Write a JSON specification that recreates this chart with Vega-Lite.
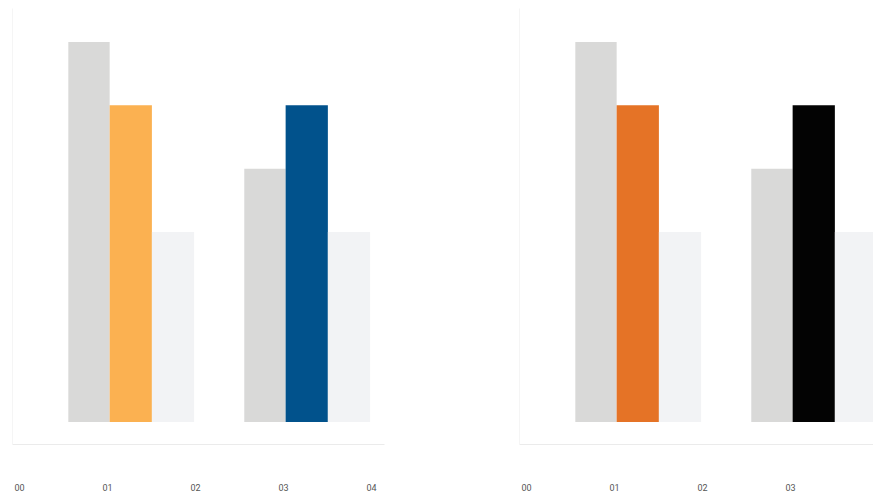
{
  "$schema": "https://vega.github.io/schema/vega-lite/v6.json",
  "padding": {"left": 12, "top": 8, "right": 0, "bottom": 0},
  "autosize": {"type": "pad"},
  "background": "white",
  "config": {"view": {"stroke": null}, "font": "Roboto", "concat": {"spacing": 135}},
  "data": {"values": [
    {"panel": "A", "series": "base-1", "start": 0.56, "end": 1.03, "value": 6},
    {"panel": "A", "series": "focus-1", "start": 1.03, "end": 1.51, "value": 5},
    {"panel": "A", "series": "ref-1", "start": 1.51, "end": 1.99, "value": 3},
    {"panel": "A", "series": "base-2", "start": 2.56, "end": 3.03, "value": 4},
    {"panel": "A", "series": "focus-2", "start": 3.03, "end": 3.51, "value": 5},
    {"panel": "A", "series": "ref-2", "start": 3.51, "end": 3.99, "value": 3},
    {"panel": "B", "series": "base-1", "start": 0.56, "end": 1.03, "value": 6},
    {"panel": "B", "series": "focus-1", "start": 1.03, "end": 1.51, "value": 5},
    {"panel": "B", "series": "ref-1", "start": 1.51, "end": 1.99, "value": 3},
    {"panel": "B", "series": "base-2", "start": 2.56, "end": 3.03, "value": 4},
    {"panel": "B", "series": "focus-2", "start": 3.03, "end": 3.51, "value": 5},
    {"panel": "B", "series": "ref-2", "start": 3.51, "end": 3.99, "value": 3}
  ]},
  "resolve": {"scale": {"color": "independent"}},
  "hconcat": [
    {
      "width": 372,
      "height": 436,
      "transform": [{"filter": "datum.panel == 'A'"}],
      "mark": {"type": "bar"},
      "encoding": {
        "x": {"field": "start", "type": "quantitative",
          "scale": {"domain": [-0.08, 4.148], "nice": false, "zero": false},
          "axis": {"values": [0, 1, 2, 3, 4], "format": "02d", "grid": false, "ticks": false, "labelPadding": 39, "labelFontSize": 9, "labelColor": "#555555", "domainColor": "#ebebeb", "title": null, "labelFlush": false}},
        "x2": {"field": "end"},
        "y": {"field": "value", "type": "quantitative",
          "scale": {"domain": [-0.347, 6.537], "nice": false, "zero": false},
          "axis": {"labels": false, "ticks": false, "grid": false, "title": null, "domainColor": "#f5f5f5"}},
        "y2": {"datum": 0},
        "color": {"field": "series", "type": "nominal",
          "scale": {"domain": ["base-1", "focus-1", "ref-1", "base-2", "focus-2", "ref-2"],
                    "range": ["#d9d9d8", "#fbb151", "#f2f3f5", "#d9d9d8", "#01528c", "#f2f3f5"]},
          "legend": null}
      }
    },
    {
      "width": 372,
      "height": 436,
      "transform": [{"filter": "datum.panel == 'B'"}],
      "mark": {"type": "bar"},
      "encoding": {
        "x": {"field": "start", "type": "quantitative",
          "scale": {"domain": [-0.08, 4.148], "nice": false, "zero": false},
          "axis": {"values": [0, 1, 2, 3], "format": "02d", "grid": false, "ticks": false, "labelPadding": 39, "labelFontSize": 9, "labelColor": "#555555", "domainColor": "#ebebeb", "title": null, "labelFlush": false}},
        "x2": {"field": "end"},
        "y": {"field": "value", "type": "quantitative",
          "scale": {"domain": [-0.347, 6.537], "nice": false, "zero": false},
          "axis": {"labels": false, "ticks": false, "grid": false, "title": null, "domainColor": "#f5f5f5"}},
        "y2": {"datum": 0},
        "color": {"field": "series", "type": "nominal",
          "scale": {"domain": ["base-1", "focus-1", "ref-1", "base-2", "focus-2", "ref-2"],
                    "range": ["#d9d9d8", "#e57326", "#f2f3f5", "#d9d9d8", "#030303", "#f2f3f5"]},
          "legend": null}
      }
    }
  ]
}
